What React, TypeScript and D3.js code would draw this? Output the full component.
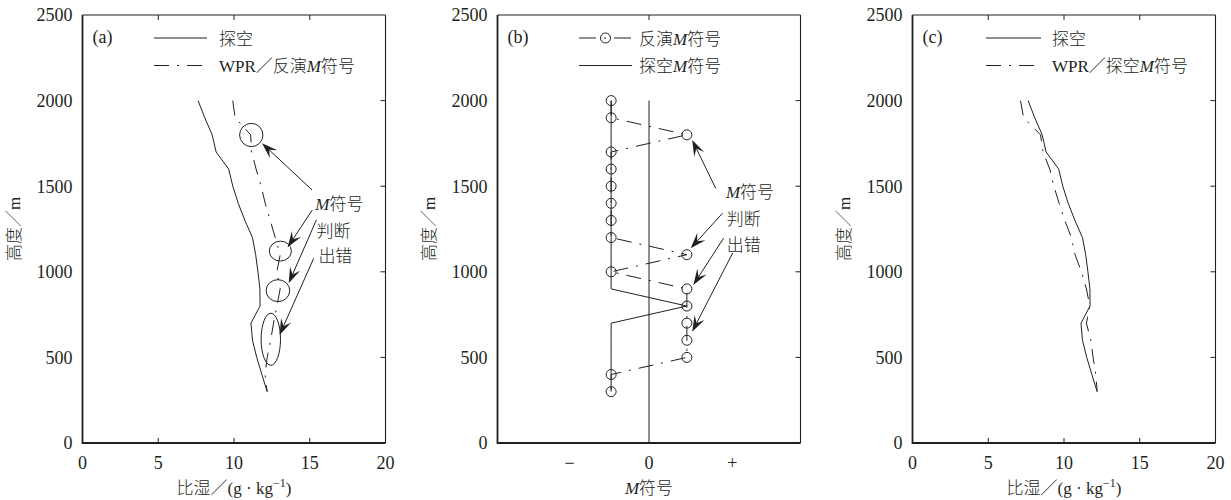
import React from "react";
import * as d3 from "d3";

// heights shared by every profile (m)
const HEIGHTS = [2000, 1900, 1800, 1700, 1600, 1500, 1400, 1300, 1200, 1100, 1000, 900, 800, 700, 600, 500, 400, 300];

// specific humidity from the sounding (g/kg)
const Q_SOUNDING = [7.63, 8.07, 8.56, 8.82, 9.65, 9.92, 10.28, 10.72, 11.22, 11.43, 11.58, 11.71, 11.72, 11.12, 11.22, 11.5, 11.84, 12.19];
// WPR retrieval with retrieved M sign
const Q_WPR_INV = [9.92, 10.07, 11.1, 11.16, 11.46, 11.79, 12.06, 12.39, 12.72, 13.05, 12.83, 13.05, 12.83, 12.61, 12.42, 12.19, 12.05, 12.19];
// WPR retrieval with sounding M sign
const Q_WPR_SND = [7.13, 7.33, 8.45, 8.62, 9.06, 9.33, 9.68, 10.05, 10.49, 10.73, 11.15, 11.48, 11.7, 11.48, 11.77, 11.92, 12.1, 12.19];

// M sign: -1 / +1
const M_INV = [-1, -1, 1, -1, -1, -1, -1, -1, -1, 1, -1, 1, 1, 1, 1, 1, -1, -1];
const M_SND = [-1, -1, -1, -1, -1, -1, -1, -1, -1, -1, -1, -1, 1, -1, -1, -1, -1, -1];

const Y_TICKS = [0, 500, 1000, 1500, 2000, 2500];
const Y_INNER_TICKS = [500, 1000, 1500, 2000];
const Q_TICKS = [0, 5, 10, 15, 20];
const Q_INNER_TICKS = [5, 10, 15];
const M_TICKS = [-2.1, 0, 2.2];
const M_TICK_LABELS = ["\u2212", "0", "+"];

// panel (a) marked regions: centre and half-axes in data units
const ELL_Q = [11.14, 13.06, 12.9, 12.43];
const ELL_H = [1799, 1121, 890, 606];
const ELL_RQ = [0.77, 0.73, 0.78, 0.64];
const ELL_RH = [68, 58, 64, 152];

// annotation labels
const NOTE_TEXT = ["M符号", "判断", "出错"];
const NOTE_Q_A = [15.37, 15.44, 15.57];
const NOTE_H_A = [1361, 1206, 1060];
const NOTE_M_B = [2.03, 2.05, 2.05];
const NOTE_H_B = [1431, 1273, 1121];

// arrows [from x, from h, to x, to h]
const ARROWS_A = [
  [15.15, 1478, 11.85, 1751],
  [15.17, 1361, 13.54, 1143],
  [15.44, 1303, 13.61, 933],
  [15.26, 1079, 13.01, 631],
];
const ARROWS_B = [
  [1.76, 1488, 1.14, 1770],
  [1.94, 1342, 1.1, 1137],
  [1.97, 1197, 1.17, 923],
  [2.21, 1110, 1.14, 650],
];

const FONT = '"Liberation Serif","Times New Roman","Noto Sans CJK SC",serif';
const INK = "#231f20";
const DASHDOT = "15,8,2,8";

const TOP = 15;
const BOTTOM = 443;
const PW = 303;
const LEFTS = [82.5, 497.5, 912.5];

const y = d3.scaleLinear().domain([0, 2500]).range([BOTTOM, TOP]);

type Pt = { x: number; h: number };
const lineGen = (sx: d3.ScaleLinear<number, number>) =>
  d3.line<Pt>().x((d) => sx(d.x)).y((d) => y(d.h));

function Arrow({ x1, y1, x2, y2 }: { x1: number; y1: number; x2: number; y2: number }) {
  const dx = x2 - x1, dy = y2 - y1;
  const len = Math.hypot(dx, dy);
  const ux = dx / len, uy = dy / len;
  const nx = -uy, ny = ux;
  const L = 16, hw = 5.5;
  const bx = x2 - L * ux, by = y2 - L * uy;
  const kx = x2 - 0.6 * L * ux, ky = y2 - 0.6 * L * uy;
  const d = `M${x2},${y2}L${bx + hw * nx},${by + hw * ny}L${kx},${ky}L${bx - hw * nx},${by - hw * ny}Z`;
  return (
    <g>
      <line x1={x1} y1={y1} x2={kx} y2={ky} stroke={INK} strokeWidth={1} />
      <path d={d} fill={INK} />
    </g>
  );
}

function Frame({ left, x, xTicks, xLabels, innerX, xTitle }: any) {
  const right = left + PW;
  return (
    <g fontFamily={FONT} fill={INK} fontWeight={300}>
      <line x1={left} y1={TOP} x2={right} y2={TOP} stroke={INK} strokeWidth={1.1} />
      <line x1={right} y1={TOP} x2={right} y2={BOTTOM} stroke={INK} strokeWidth={1.1} />
      <line x1={left} y1={TOP} x2={left} y2={BOTTOM + 1} stroke={INK} strokeWidth={1.8} />
      <line x1={left} y1={BOTTOM} x2={right} y2={BOTTOM} stroke={INK} strokeWidth={1.8} />
      {Y_INNER_TICKS.map((t) => (
        <line key={"r" + t} x1={right} x2={right - 5} y1={y(t)} y2={y(t)} stroke={INK} strokeWidth={1} />
      ))}
      {innerX.top.map((t: number) => (
        <line key={"t" + t} x1={x(t)} x2={x(t)} y1={TOP} y2={TOP + 5} stroke={INK} strokeWidth={1} />
      ))}
      {innerX.bottom.map((t: number) => (
        <line key={"b" + t} x1={x(t)} x2={x(t)} y1={BOTTOM} y2={BOTTOM - 5} stroke={INK} strokeWidth={1} />
      ))}
      {Y_TICKS.map((t) => (
        <text key={"yl" + t} x={left - 10} y={y(t)} dy="0.35em" textAnchor="end" fontSize={18}>
          {t}
        </text>
      ))}
      {xTicks.map((t: number, i: number) => (
        <text key={"xl" + i} x={x(t)} y={469} textAnchor="middle" fontSize={18}>
          {xLabels[i]}
        </text>
      ))}
      <text transform={`translate(${left - 68},${(TOP + BOTTOM) / 2}) rotate(-90)`} dy="0.35em" textAnchor="middle" fontSize={17}>
        高度／m
      </text>
      <text x={left + PW / 2} y={494} textAnchor="middle" fontSize={17}>
        {xTitle}
      </text>
    </g>
  );
}

const humidityTitle = (
  <>
    比湿／(g · kg<tspan dy={-7} fontSize={12}>−1</tspan>
    <tspan dy={7}>)</tspan>
  </>
);

function Legend({ left, tag, rows, x0, x1, tx }: any) {
  return (
    <g fontFamily={FONT} fill={INK} fontSize={17} fontWeight={300}>
      <text x={left + 10} y={TOP + 28} fontSize={18}>{tag}</text>
      {rows.map((r: any, i: number) => {
        const ly = TOP + 23 + i * 27.5;
        return (
          <g key={i}>
            <line x1={left + x0} x2={left + x1} y1={ly} y2={ly} stroke={INK} strokeWidth={1} strokeDasharray={r.dash} />
            {r.marker && <circle cx={left + (x0 + x1) / 2} cy={ly} r={5} fill="none" stroke={INK} strokeWidth={1} />}
            <text x={left + tx} y={ly + 6.5}>{r.label}</text>
          </g>
        );
      })}
    </g>
  );
}

const italicM = (rest: string, pre = "") => (
  <>
    {pre}
    <tspan fontStyle="italic">M</tspan>
    {rest}
  </>
);

function Notes({ sx, qs, hs }: any) {
  return (
    <g fontFamily={FONT} fill={INK} fontSize={17} fontWeight={300}>
      {NOTE_TEXT.map((t, i) => (
        <text key={i} x={sx(qs[i])} y={y(hs[i])}>
          {t.startsWith("M") ? italicM(t.slice(1)) : t}
        </text>
      ))}
    </g>
  );
}

export default function App() {
  const xa = d3.scaleLinear().domain([0, 20]).range([LEFTS[0], LEFTS[0] + PW]);
  const xb = d3.scaleLinear().domain([-4, 4]).range([LEFTS[1], LEFTS[1] + PW]);
  const xc = d3.scaleLinear().domain([0, 20]).range([LEFTS[2], LEFTS[2] + PW]);

  const sounding = HEIGHTS.map((h, i) => ({ x: Q_SOUNDING[i], h }));
  const wprInv = HEIGHTS.map((h, i) => ({ x: Q_WPR_INV[i], h }));
  const wprSnd = HEIGHTS.map((h, i) => ({ x: Q_WPR_SND[i], h }));
  const mInv = HEIGHTS.map((h, i) => ({ x: M_INV[i], h }));
  const mSnd = HEIGHTS.map((h, i) => ({ x: M_SND[i], h }));

  const la = lineGen(xa), lb = lineGen(xb), lc = lineGen(xc);

  return (
    <svg width={1231} height={500} style={{ position: "absolute", left: 0, top: 0, background: "#fff" }}>
      {/* (a) */}
      <Frame left={LEFTS[0]} x={xa} xTicks={Q_TICKS} xLabels={Q_TICKS.map(String)} innerX={{ top: Q_INNER_TICKS, bottom: Q_INNER_TICKS }} xTitle={humidityTitle} />
      <path d={la(sounding)!} fill="none" stroke={INK} strokeWidth={1} />
      <path d={la(wprInv)!} fill="none" stroke={INK} strokeWidth={1} strokeDasharray={DASHDOT} />
      {ELL_Q.map((q, i) => (
        <ellipse key={i} cx={xa(q)} cy={y(ELL_H[i])} rx={xa(q + ELL_RQ[i]) - xa(q)} ry={y(ELL_H[i] - ELL_RH[i]) - y(ELL_H[i])} fill="none" stroke={INK} strokeWidth={1} />
      ))}
      {ARROWS_A.map((a, i) => (
        <Arrow key={i} x1={xa(a[0])} y1={y(a[1])} x2={xa(a[2])} y2={y(a[3])} />
      ))}
      <Notes sx={xa} qs={NOTE_Q_A} hs={NOTE_H_A} />
      <Legend left={LEFTS[0]} tag="(a)" x0={71.5} x1={124.5} tx={136.5}
        rows={[{ dash: null, label: "探空" }, { dash: DASHDOT, label: italicM("符号", "WPR／反演") }]} />

      {/* (b) */}
      <Frame left={LEFTS[1]} x={xb} xTicks={M_TICKS} xLabels={M_TICK_LABELS} innerX={{ top: [0], bottom: [] }} xTitle={italicM("符号")} />
      <line x1={xb(0)} x2={xb(0)} y1={y(2000)} y2={y(0)} stroke={INK} strokeWidth={1} />
      <path d={lb(mSnd)!} fill="none" stroke={INK} strokeWidth={1} />
      <path d={lb(mInv)!} fill="none" stroke={INK} strokeWidth={1} strokeDasharray={DASHDOT} />
      {mInv.map((d, i) => (
        <circle key={i} cx={xb(d.x)} cy={y(d.h)} r={5} fill="none" stroke={INK} strokeWidth={1} />
      ))}
      {ARROWS_B.map((a, i) => (
        <Arrow key={i} x1={xb(a[0])} y1={y(a[1])} x2={xb(a[2])} y2={y(a[3])} />
      ))}
      <Notes sx={xb} qs={NOTE_M_B} hs={NOTE_H_B} />
      <Legend left={LEFTS[1]} tag="(b)" x0={81.5} x1={134.5} tx={141.5}
        rows={[{ dash: "17,8,2,8", marker: true, label: italicM("符号", "反演") }, { dash: null, label: italicM("符号", "探空") }]} />

      {/* (c) */}
      <Frame left={LEFTS[2]} x={xc} xTicks={Q_TICKS} xLabels={Q_TICKS.map(String)} innerX={{ top: Q_INNER_TICKS, bottom: Q_INNER_TICKS }} xTitle={humidityTitle} />
      <path d={lc(sounding)!} fill="none" stroke={INK} strokeWidth={1} />
      <path d={lc(wprSnd)!} fill="none" stroke={INK} strokeWidth={1} strokeDasharray={DASHDOT} />
      <Legend left={LEFTS[2]} tag="(c)" x0={73.5} x1={128.5} tx={139.5}
        rows={[{ dash: null, label: "探空" }, { dash: DASHDOT, label: italicM("符号", "WPR／探空") }]} />
    </svg>
  );
}
